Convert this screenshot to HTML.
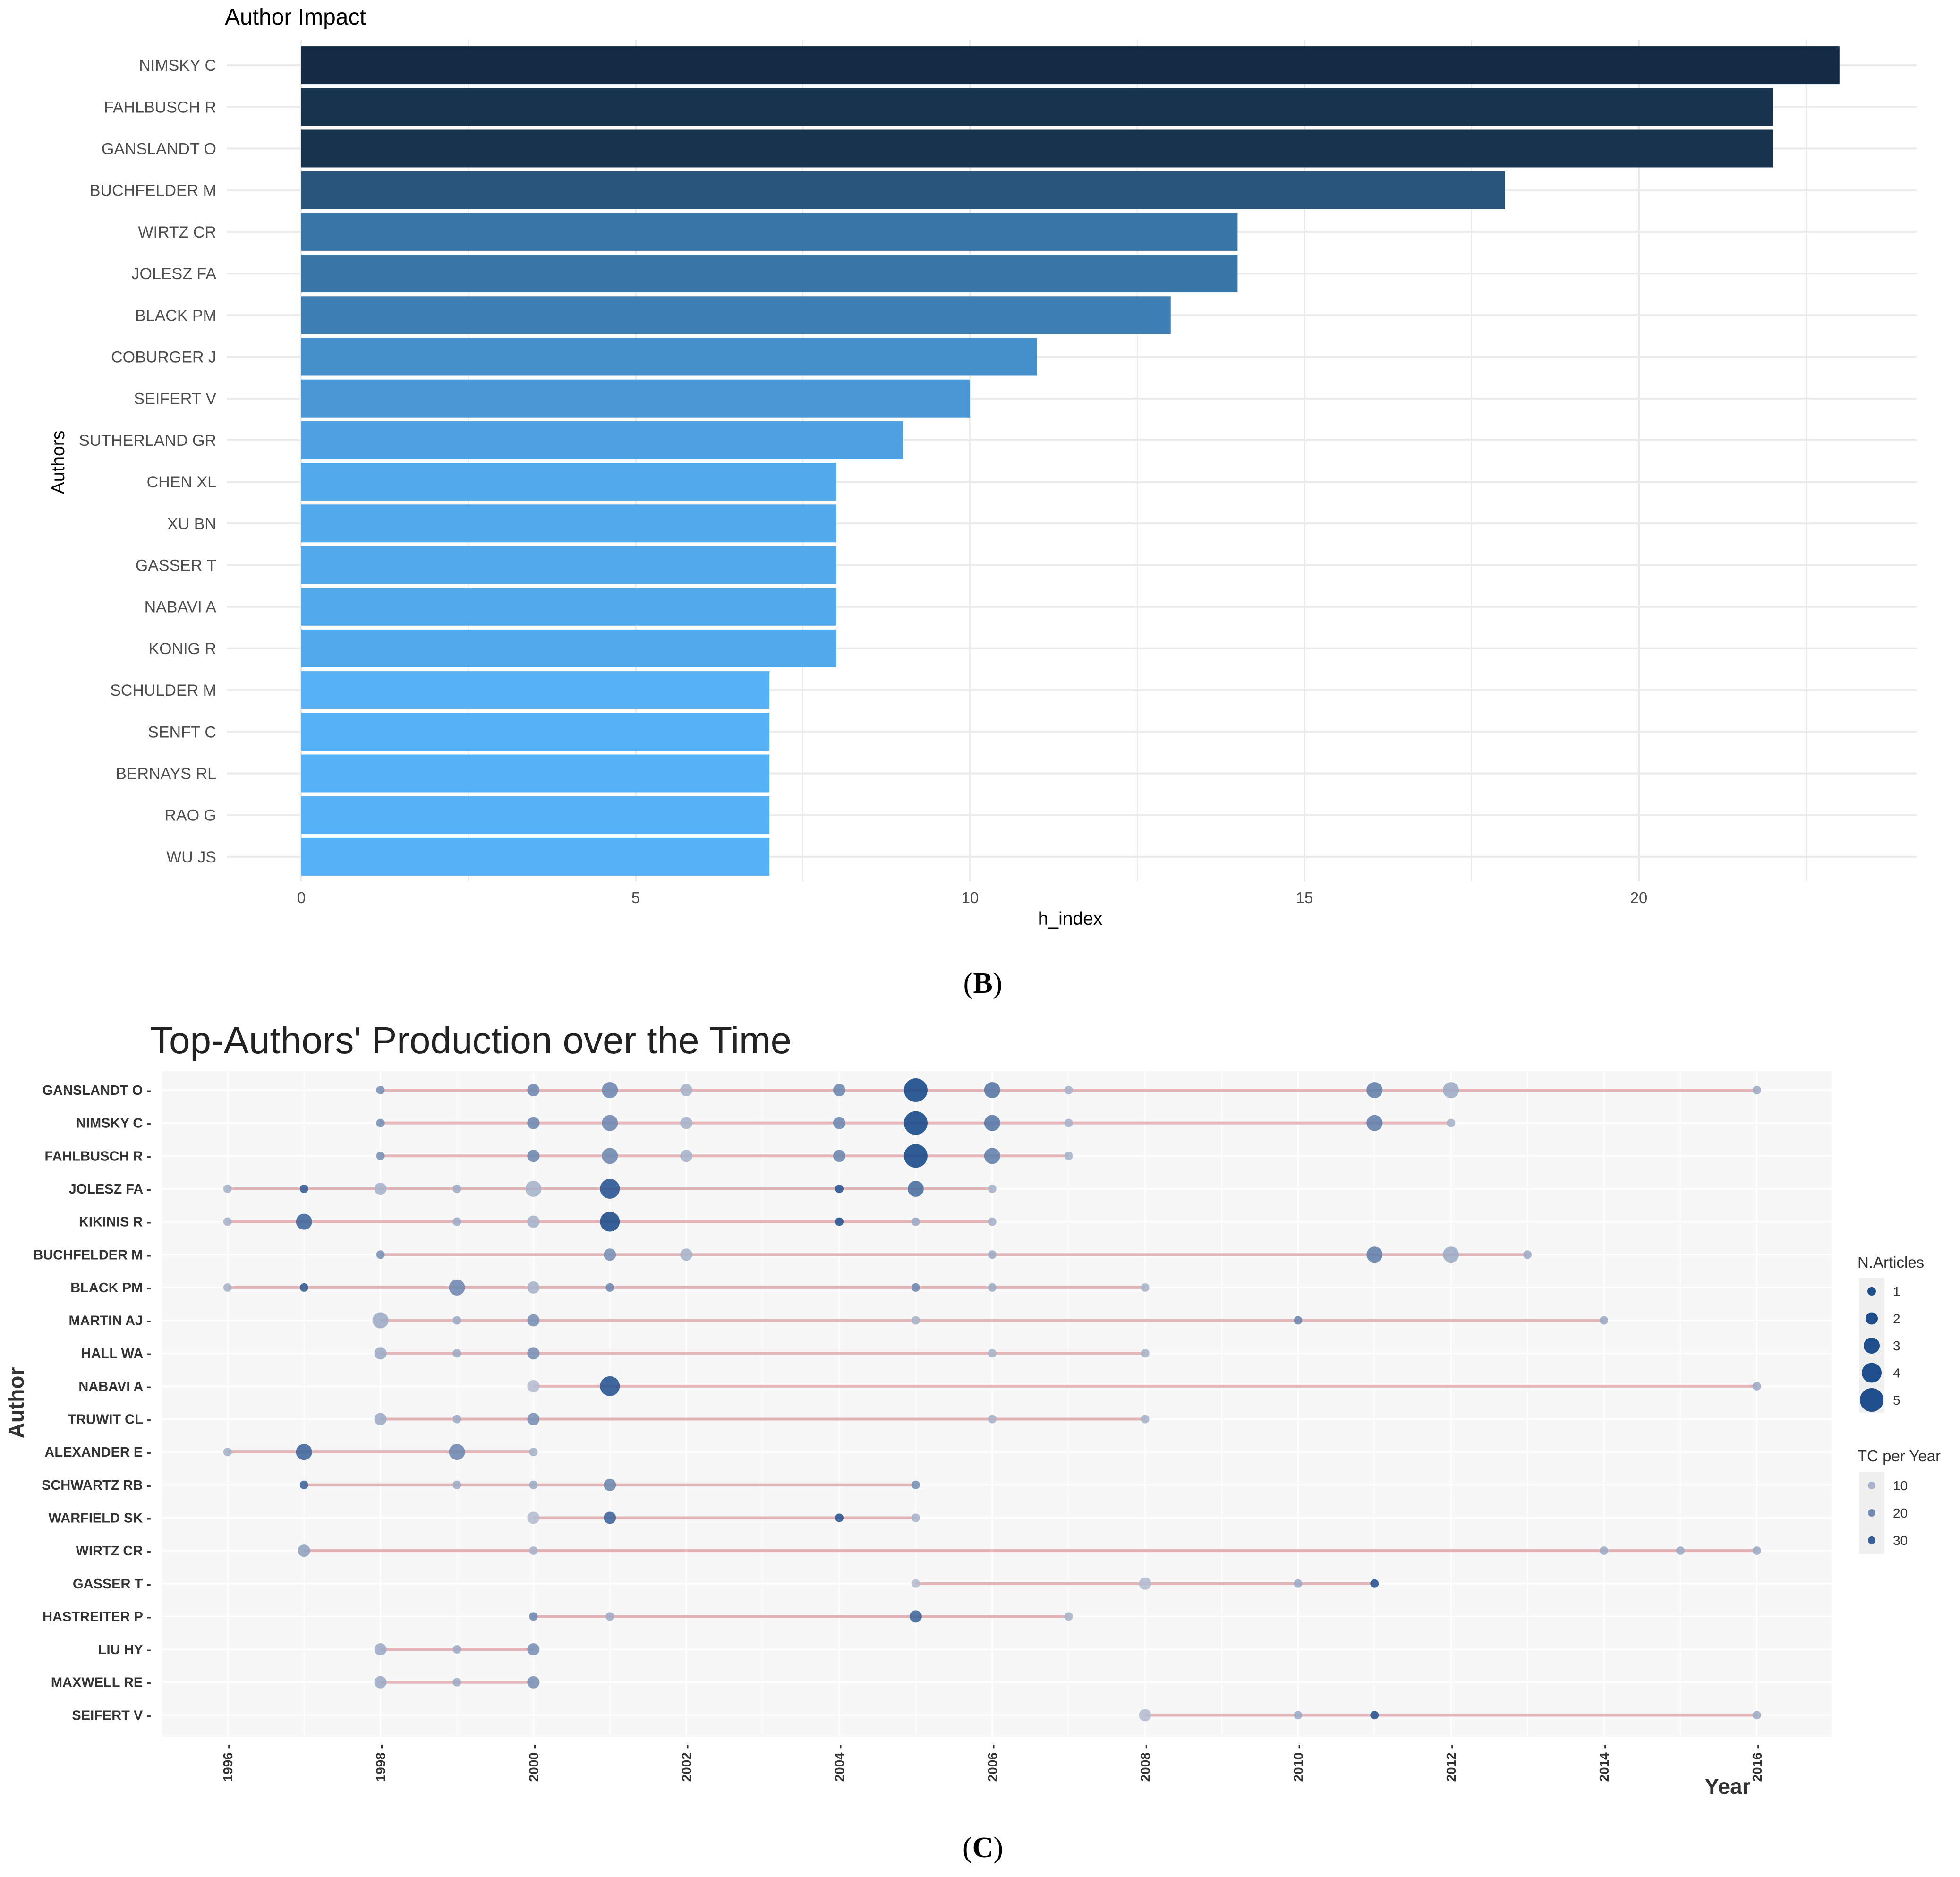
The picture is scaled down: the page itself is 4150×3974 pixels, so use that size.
<!DOCTYPE html>
<html><head><meta charset="utf-8"><title>Author Impact and Top-Authors' Production over the Time</title>
<style>
html,body{margin:0;padding:0;background:#fff;}
svg{display:block;font-family:"Liberation Sans",sans-serif;}
</style></head>
<body>
<svg id="fig" width="4150" height="3974" viewBox="0 0 4150 3974" xmlns="http://www.w3.org/2000/svg">
  <g id="chartB"></g>
  <text x="2081" y="2102" text-anchor="middle" font-family="Liberation Serif, serif" font-size="62" fill="#000">(<tspan font-weight="bold">B</tspan>)</text>
  <g id="chartC"></g>
  <text x="2081" y="3932" text-anchor="middle" font-family="Liberation Serif, serif" font-size="62" fill="#000">(<tspan font-weight="bold">C</tspan>)</text>
</svg>
<script>
// ---------- Chart B data ----------
const authorsB = ["NIMSKY C","FAHLBUSCH R","GANSLANDT O","BUCHFELDER M","WIRTZ CR","JOLESZ FA","BLACK PM","COBURGER J","SEIFERT V","SUTHERLAND GR","CHEN XL","XU BN","GASSER T","NABAVI A","KONIG R","SCHULDER M","SENFT C","BERNAYS RL","RAO G","WU JS"];
const hIndex = [23,22,22,18,14,14,13,11,10,9,8,8,8,8,8,7,7,7,7,7];
const hTicks = [0,5,10,15,20];

// ---------- Chart C data ----------
const authorsC = ["GANSLANDT O","NIMSKY C","FAHLBUSCH R","JOLESZ FA","KIKINIS R","BUCHFELDER M","BLACK PM","MARTIN AJ","HALL WA","NABAVI A","TRUWIT CL","ALEXANDER E","SCHWARTZ RB","WARFIELD SK","WIRTZ CR","GASSER T","HASTREITER P","LIU HY","MAXWELL RE","SEIFERT V"];
// each point: row index, year, number of articles, TC per year
const ptRow  = [0,0,0,0,0,0,0,0,0,0,0, 1,1,1,1,1,1,1,1,1,1, 2,2,2,2,2,2,2,2, 3,3,3,3,3,3,3,3,3, 4,4,4,4,4,4,4,4, 5,5,5,5,5,5,5, 6,6,6,6,6,6,6,6, 7,7,7,7,7,7, 8,8,8,8,8, 9,9,9, 10,10,10,10,10, 11,11,11,11, 12,12,12,12,12, 13,13,13,13, 14,14,14,14,14, 15,15,15,15, 16,16,16,16, 17,17,17, 18,18,18, 19,19,19,19];
const ptYear = [1998,2000,2001,2002,2004,2005,2006,2007,2011,2012,2016, 1998,2000,2001,2002,2004,2005,2006,2007,2011,2012, 1998,2000,2001,2002,2004,2005,2006,2007, 1996,1997,1998,1999,2000,2001,2004,2005,2006, 1996,1997,1999,2000,2001,2004,2005,2006, 1998,2001,2002,2006,2011,2012,2013, 1996,1997,1999,2000,2001,2005,2006,2008, 1998,1999,2000,2005,2010,2014, 1998,1999,2000,2006,2008, 2000,2001,2016, 1998,1999,2000,2006,2008, 1996,1997,1999,2000, 1997,1999,2000,2001,2005, 2000,2001,2004,2005, 1997,2000,2014,2015,2016, 2005,2008,2010,2011, 2000,2001,2005,2007, 1998,1999,2000, 1998,1999,2000, 2008,2010,2011,2016];
const ptN    = [1,2,3,2,2,5,3,1,3,3,1, 1,2,3,2,2,5,3,1,3,1, 1,2,3,2,2,5,3,1, 1,1,2,1,3,4,1,3,1, 1,3,1,2,4,1,1,1, 1,2,2,1,3,3,1, 1,1,3,2,1,1,1,1, 3,1,2,1,1,1, 2,1,2,1,1, 2,4,1, 2,1,2,1,1, 1,3,3,1, 1,1,1,2,1, 2,2,1,1, 2,1,1,1,1, 1,2,1,1, 1,1,2,1, 2,1,2, 2,1,2, 2,1,1,1];
const ptTC   = [18,20,20,10,20,35,24,10,22,12,12, 18,20,20,10,20,35,24,10,22,10, 18,20,20,10,20,35,22,10, 10,30,10,12,10,32,32,26,10, 10,28,12,10,34,32,12,10, 18,18,10,12,22,12,12, 10,30,20,10,20,20,12,10, 12,12,18,10,20,12, 12,12,18,10,10, 8,32,12, 12,12,18,10,10, 10,28,20,10, 28,12,12,20,18, 8,28,32,10, 14,10,12,12,12, 8,8,12,32, 20,12,28,10, 12,12,18, 12,12,18, 8,12,32,12];
const yearTicks = [1996,1998,2000,2002,2004,2006,2008,2010,2012,2014,2016];
const legendN = [1,2,3,4,5];
const legendTC = [10,20,30];

const NS = "http://www.w3.org/2000/svg";
function mk(tag, attrs, parent){ const e=document.createElementNS(NS,tag); for(const k in attrs) e.setAttribute(k,attrs[k]); parent.appendChild(e); return e; }
function hex(c){return [parseInt(c.slice(1,3),16),parseInt(c.slice(3,5),16),parseInt(c.slice(5,7),16)];}
function lerpColor(a,b,t){ t=Math.max(0,Math.min(1,t)); const A=hex(a),B=hex(b); return "rgb("+A.map((v,i)=>Math.round(v+(B[i]-v)*t)).join(",")+")"; }

// ===== Chart B =====
(function(){
  const g = document.getElementById("chartB");
  const x0=638, pxPerUnit=141.6, xRight=4058;
  const yTop=94, step=88.2, barH=80;
  const xS = v => x0 + v*pxPerUnit;
  const yS = i => yTop + step*(i+0.5);
  const title = mk("text",{x:476,y:52,"font-size":48,fill:"#000"},g);
  title.textContent="Author Impact";
  
  
  for(let v=0; xS(v)<=xRight; v+=2.5){
    const l=mk("line",{x1:xS(v),x2:xS(v),y1:84,y2:1866,stroke:"#ebebeb","stroke-width":v%5===0?4:2},g);
    
    
  }
  authorsB.forEach((a,i)=>{
    const l=mk("line",{x1:480,x2:xRight,y1:yS(i),y2:yS(i),stroke:"#ebebeb","stroke-width":4},g);
    
    
  });
  const minH=Math.min(...hIndex), maxH=Math.max(...hIndex);
  authorsB.forEach((a,i)=>{
    const r=mk("rect",{x:x0,y:yS(i)-barH/2,width:xS(hIndex[i])-x0,height:barH,fill:lerpColor("#56B1F7","#132B43",(hIndex[i]-minH)/(maxH-minH))},g);
    
    
    const t=mk("text",{x:458,y:yS(i)+12,"text-anchor":"end","font-size":34,fill:"#4d4d4d"},g);
    t.textContent=a;
    
    
  });
  hTicks.forEach(v=>{
    const t=mk("text",{x:xS(v),y:1912,"text-anchor":"middle","font-size":33,fill:"#4d4d4d"},g);
    t.textContent=v;
    
    
  });
  const xt=mk("text",{x:2266,y:1958,"text-anchor":"middle","font-size":39,fill:"#000"},g);
  xt.textContent="h_index";
  
  
  const yt=mk("text",{x:136,y:979,"text-anchor":"middle","font-size":39,fill:"#000",transform:"rotate(-90 136 979)"},g);
  yt.textContent="Authors";
  
  
})();

// ===== Chart C =====
(function(){
  const g=document.getElementById("chartC");
  const px0=344, px1=3878, py0=2268, py1=3677;
  const xS = y => 481.8 + (y-1996)*161.9;
  const yS = i => 2308 + i*69.65;
  const rS = n => 9 + (n-1)*4;
  const cS = tc => lerpColor("#b4bdd0","#1a4a8a",(tc-8)/(35-8));
  const title=mk("text",{x:318,y:2230,"font-size":80,fill:"#222"},g);
  title.textContent="Top-Authors' Production over the Time";
  
  
  const bg=mk("rect",{x:px0,y:py0,width:px1-px0,height:py1-py0,fill:"#f7f7f7"},g);
  
  
  for(let y=1996;y<=2017;y++){
    const l=mk("line",{x1:xS(y),x2:xS(y),y1:py0,y2:py1,stroke:"#ffffff","stroke-width":y%2===0?3:1.5},g);
    
    
  }
  authorsC.forEach((a,i)=>{
    const l=mk("line",{x1:px0,x2:px1,y1:yS(i),y2:yS(i),stroke:"#ffffff","stroke-width":3},g);
    
    
  });
  authorsC.forEach((a,i)=>{
    const ys=ptYear.filter((y,k)=>ptRow[k]===i);
    if(!ys.length) return;
    const l=mk("line",{x1:xS(Math.min(...ys)),x2:xS(Math.max(...ys)),y1:yS(i),y2:yS(i),stroke:"#e3b4b8","stroke-width":6},g);
    
    
    const t=mk("text",{x:320,y:yS(i)+10,"text-anchor":"end","font-size":29,"font-weight":"bold",fill:"#333"},g);
    t.textContent=a+" -";
    
    
  });
  ptRow.forEach((r,k)=>{
    const c=mk("circle",{cx:xS(ptYear[k]),cy:yS(r),r:rS(ptN[k]),fill:cS(ptTC[k]),"fill-opacity":0.9},g);
    
    
  });
  yearTicks.forEach(y=>{
    const t=mk("text",{x:0,y:0,"text-anchor":"end","font-size":28,"font-weight":"bold",fill:"#333",transform:"translate("+(xS(y)+10)+" 3693) rotate(-90)"},g);
    t.textContent=y+" -";
    
    
  });
  const xt=mk("text",{x:3658,y:3798,"text-anchor":"middle","font-size":46,"font-weight":"bold",fill:"#333"},g);
  xt.textContent="Year";
  
  
  const yt=mk("text",{x:50,y:2970,"text-anchor":"middle","font-size":46,"font-weight":"bold",fill:"#333",transform:"rotate(-90 50 2970)"},g);
  yt.textContent="Author";
  
  
  const lt1=mk("text",{x:3933,y:2684,"font-size":33,fill:"#333"},g);
  lt1.textContent="N.Articles";
  
  
  mk("rect",{x:3936,y:2705,width:54,height:286,fill:"#f0f0f0"},g);
  legendN.forEach((n,i)=>{
    const y=2734+i*57.5;
    const c=mk("circle",{cx:3963,cy:y,r:rS(n),fill:"#1f4e8c"},g);
    
    
    const t=mk("text",{x:4008,y:y+10,"font-size":28,fill:"#333"},g);
    t.textContent=n;
    
    
  });
  const lt2=mk("text",{x:3933,y:3094,"font-size":33,fill:"#333"},g);
  lt2.textContent="TC per Year";
  
  
  mk("rect",{x:3936,y:3116,width:54,height:174,fill:"#f0f0f0"},g);
  legendTC.forEach((v,i)=>{
    const y=3145+i*58;
    const c=mk("circle",{cx:3963,cy:y,r:8,fill:cS(v)},g);
    
    
    const t=mk("text",{x:4008,y:y+10,"font-size":28,fill:"#333"},g);
    t.textContent=v;
    
    
  });
})();
</script>
</body></html>
